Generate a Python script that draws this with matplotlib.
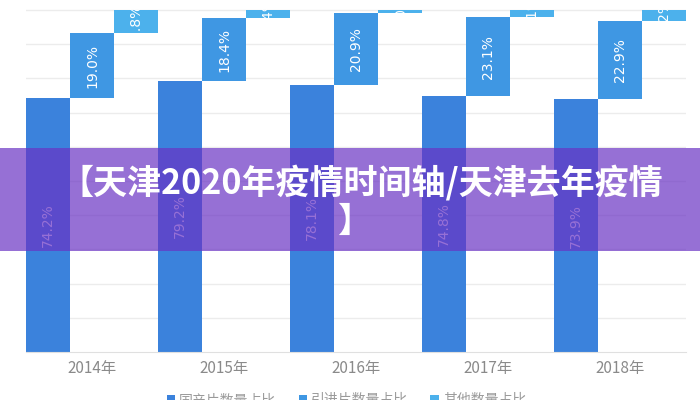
import matplotlib
matplotlib.use('Agg')
import matplotlib.pyplot as plt
from matplotlib.patches import Rectangle

plt.rcParams['font.family'] = ['Noto Sans CJK SC', 'DejaVu Sans']

years = ['2014年', '2015年', '2016年', '2017年', '2018年']
domestic = [74.2, 79.2, 78.1, 74.8, 73.9]   # 国产片
imported = [19.0, 18.4, 20.9, 23.1, 22.9]   # 引进片
other = [6.8, 2.4, 1.0, 2.1, 3.2]           # 其他
series_names = ['国产片数量占比', '引进片数量占比', '其他数量占比']
colors = ['#3b82dc', '#3f97e3', '#4cb1ec']

fig = plt.figure(figsize=(7, 4), dpi=100)
ax = fig.add_axes([26 / 700, 48 / 400, 660 / 700, 352 / 400])

# 瀑布式：每年三根柱子并排，后一根从前一根的顶部开始
for i in range(len(years)):
    vals = [domestic[i], imported[i], other[i]]
    bottom = 0
    for k in range(3):
        x = 3 * i + k
        ax.bar(x, vals[k], width=1.0, bottom=bottom, color=colors[k],
               label=series_names[k] if i == 0 else None, zorder=2)
        ax.text(x, bottom + vals[k] / 2, '%.1f%%' % vals[k], rotation=90,
                ha='center', va='center', color='white', fontsize=10,
                family=['DejaVu Sans'], zorder=3)
        bottom += vals[k]

ax.set_xlim(-0.5, 14.5)
ax.set_ylim(0, 102.9)
ax.set_yticks(range(10, 101, 10))
ax.yaxis.grid(True, color='#ececec', linewidth=1, zorder=0)
ax.set_yticklabels([])
ax.tick_params(axis='y', length=0)
ax.set_xticks([3 * i + 1 for i in range(len(years))])
ax.set_xticklabels(years, color='#8a8a8a', fontsize=11)
ax.tick_params(axis='x', length=0, pad=6)
for s in ['top', 'right', 'left']:
    ax.spines[s].set_visible(False)
ax.spines['bottom'].set_color('#e0e0e0')

leg = fig.legend(loc='center', bbox_to_anchor=(0.495, 0.0), ncol=3, frameon=False,
                 fontsize=10, handlelength=0.6, handleheight=0.6, handletextpad=0.3,
                 columnspacing=1.6)
for t in leg.get_texts():
    t.set_color('#9a9a9a')

# 紫色半透明横幅 + 标题
fig.patches.append(Rectangle((0, 0.3725), 1, 0.2575, transform=fig.transFigure,
                             facecolor=(106 / 255, 51 / 255, 196 / 255), alpha=0.7,
                             edgecolor='none', zorder=5))
fig.text(0.516, 0.5425, '【天津2020年疫情时间轴/天津去年疫情', ha='center', va='center',
         color='white', fontsize=24.5, fontweight='bold', zorder=6)
fig.text(0.507, 0.447, '】', ha='center', va='center',
         color='white', fontsize=24.5, fontweight='bold', zorder=6)

fig.savefig('out.png', dpi=100)
